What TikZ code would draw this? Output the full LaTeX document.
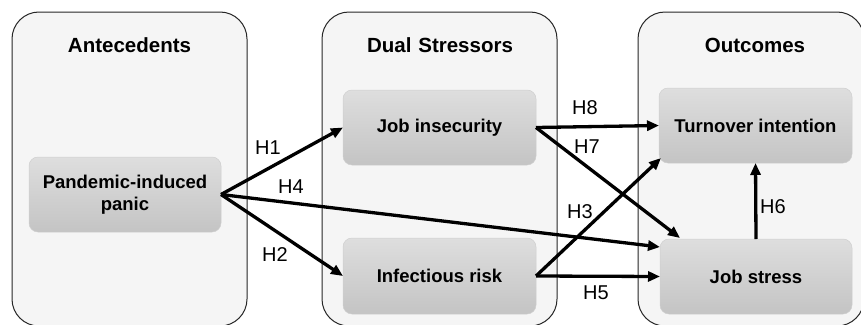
\documentclass[tikz,border=0pt]{standalone}
\usepackage{fontspec}
\setmainfont{Liberation Sans}
\usetikzlibrary{arrows.meta,calc}
\definecolor{contfill}{HTML}{F5F5F5}
\definecolor{boxtop}{HTML}{DEDEDE}
\definecolor{boxbot}{HTML}{C4C4C4}
\definecolor{boxline}{HTML}{CFCFCF}
\begin{document}
\begin{tikzpicture}[x=1pt,y=-1pt,
  container/.style={draw=black!85, line width=1pt, fill=contfill, rounded corners=27pt,
    minimum height=314pt, inner sep=0pt, outer sep=0pt, anchor=north west},
  titletext/.style={font=\fontsize{20.5}{24}\selectfont\bfseries, inner sep=0pt},
  box/.style={rounded corners=9pt, top color=boxtop, bottom color=boxbot, draw=boxline,
    line width=0.5pt, minimum width=193pt, minimum height=75pt, inner sep=0pt, outer sep=0pt,
    font=\fontsize{18.5}{21.5}\selectfont\bfseries, align=center},
  hlabel/.style={font=\fontsize{20}{24}\selectfont, inner sep=0pt},
  conn/.style={line width=3.3pt, -{Triangle[length=12pt,width=10pt]}}
]
\useasboundingbox (0,0) rectangle (861,324);
\fill[white] (0,0) rectangle (861,324);
\begin{scope}
\clip (0,0) rectangle (861,324);
% containers
\node[container, minimum width=235pt] (c1) at (12,12) {};
\node[container, minimum width=235pt] (c2) at (322,12) {};
\node[container, minimum width=226pt] (c3) at (638,12) {};
% titles
\node[titletext] (t1) at (129.5,45.5) {Antecedents};
\node[titletext] (t2) at (440,45.5) {Dual\,\,Stressors};
\node[titletext] (t3) at (755,45.5) {Outcomes};
% boxes
\node[box, minimum width=192pt] (pan) at (125,194.5) {Pandemic-induced\\panic};
\node[box] (ji) at (439.5,127.5) {Job insecurity};
\node[box, minimum height=76pt] (ir) at (439.5,276) {Infectious risk};
\node[box] (ti) at (755.5,125.5) {Turnover intention};
\node[box, minimum width=192pt] (js) at (756,276.5) {Job stress};
% connectors
\coordinate (jsH4) at ($(js.north west)+(0,8)$);
\coordinate (jsH7) at ($(js.north west)+(20,-1)$);
\coordinate (tiH3) at ($(ti.south west)+(2,-5)$);
\draw[conn] (pan.east) -- (ji.west);
\draw[conn] (pan.east) -- (jsH4);
\draw[conn] (pan.east) -- (ir.west);
\draw[conn] (ji.east) -- (ti.west);
\draw[conn] (ji.east) -- (jsH7);
\draw[conn] (ir.east) -- (tiH3);
\draw[conn] (ir.east) -- (js.west);
\draw[conn] (js.north) -- (ti.south);
% labels
\node[hlabel] (h1) at (268,148) {H1};
\node[hlabel] (h4) at (291,187) {H4};
\node[hlabel] (h2) at (275,255) {H2};
\node[hlabel] (h8) at (585,108) {H8};
\node[hlabel] (h7) at (587,147) {H7};
\node[hlabel] (h3) at (580,212) {H3};
\node[hlabel] (h5) at (596,293) {H5};
\node[hlabel] (h6) at (773,207) {H6};
\end{scope}
\end{tikzpicture}
\end{document}
